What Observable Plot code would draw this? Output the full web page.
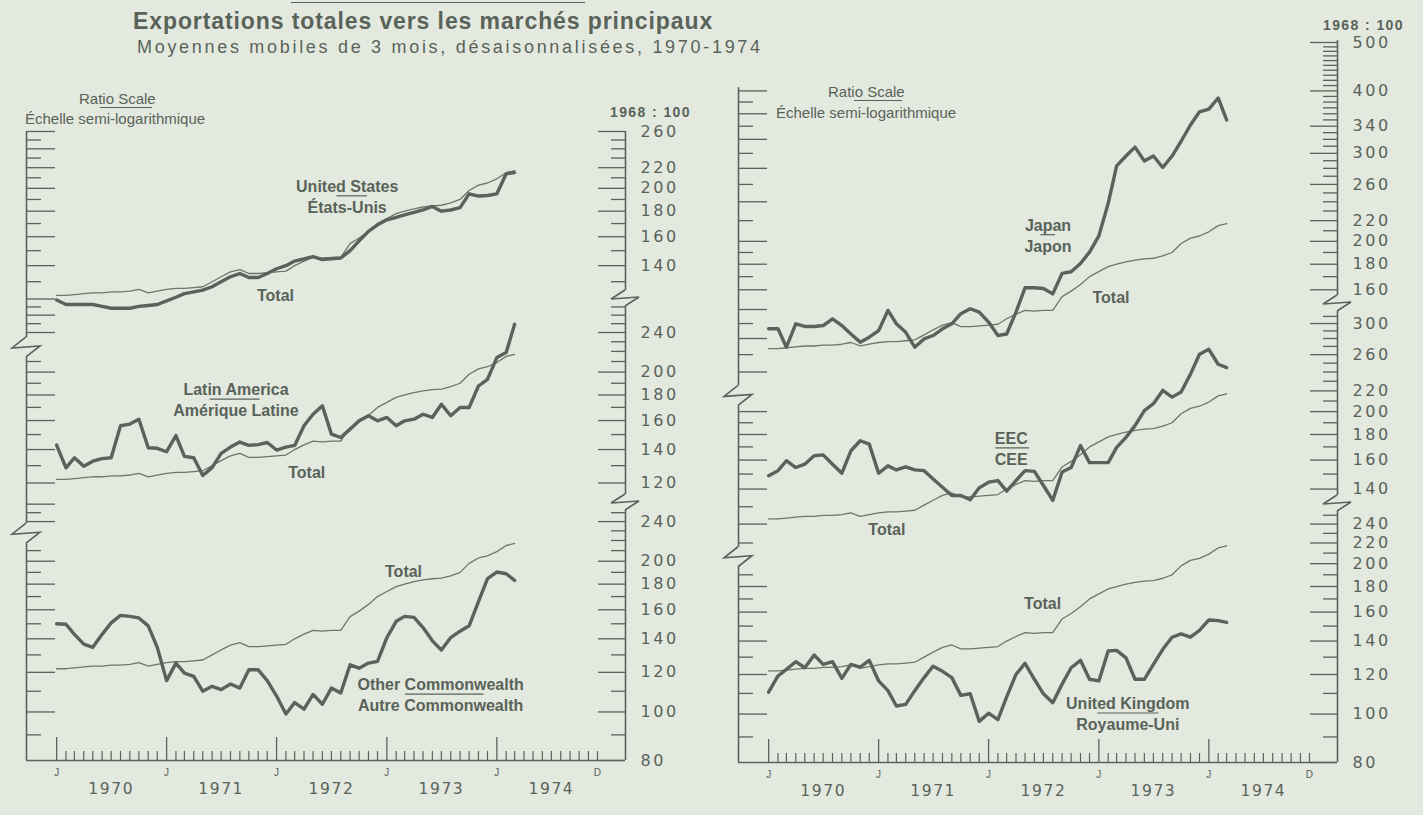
<!DOCTYPE html>
<html>
<head>
<meta charset="utf-8">
<script src="https://cdn.jsdelivr.net/npm/d3@7"></script>
<script src="https://cdn.jsdelivr.net/npm/@observablehq/plot@0.6"></script>
<style>
  body { margin: 0; background: #e3e9de; }
  #chart { position: relative; width: 1423px; height: 815px; overflow: hidden; background: #e3e9de; color: #59635a; font-family: "Liberation Sans", Arial, sans-serif; }
  .t { position: absolute; white-space: nowrap; line-height: 1; }
  .rule { position: absolute; height: 0; border-top: 1.3px solid #59635a; }
  .p { position: absolute; }
  .p svg { overflow: visible; }
  .p g[font-family="DejaVu Sans"][font-size="16"] { letter-spacing: 2.6px; }
  .p g[font-family="DejaVu Sans"][font-size="15.5"] { letter-spacing: 1.6px; }
</style>
</head>
<body>
<div id="chart"></div>
<script>
// ---------------- DATA (monthly, Jan 1970 – Mar 1974, 1968 = 100) ----------------
const firstYear = 1970;
const total = [122,122,122.5,123,123.5,123.5,124,124,124.5,125.5,123.5,124.5,125.5,126,126,126.5,127,130,133,136,137.5,135,135,135.5,136,136.5,140,143,145.5,145,145.5,145.5,155,159,164,170,174,178,180,182,183.5,184.5,185,187,190,198,203,205,209,215,217];
const unitedStates = [119.5,117,117,117,117,116,115,115,115,116,116.5,117,119,121,123,124,125,127,130,133,135,132.5,132.5,135,138,140,143,144.5,146,144,144.5,145,150,157,164,169,173,175,177,179,181,184,180,181,183,195,193,193.5,195,214,215];
const latinAmerica = [142.9,128.7,134.8,129.7,132.7,134.3,134.8,156.2,157.4,161,141.2,140.8,138.6,149.3,135.7,134.8,124.2,128.8,137.6,141.6,144.9,142.7,143.2,144.6,139.7,141.6,142.7,156.2,164.7,171.2,150.3,148,153.8,159.8,163.6,159.8,162.3,156.2,159.8,161,164.7,162.3,172.5,163.6,169.9,169.9,187.6,193.5,213.8,218.8,249.2];
const otherCommonwealth = [150,149.7,142.9,136.6,134.6,142.9,150.6,155.9,155.2,154.1,148.6,134.6,115.5,125.2,119.6,117.8,110,112.5,110.8,113.7,111.6,121.4,121.4,115.5,107.6,99.1,104.4,101.3,108.4,103.6,111.6,109.1,124.2,122.3,125.2,126.2,140.8,151.7,155.2,154.5,147.4,138.7,133,140.8,145,148.6,166.1,184.6,190.3,188.8,183.1];
const japan = [133.7,133.7,122.8,136.8,135.1,135.1,135.7,140,135.7,130.5,125.7,128.6,132.5,145.5,136.8,131.5,122.8,127.6,129.6,133.7,136.8,143.3,146.6,144.4,137.9,129.6,130.5,144.4,161.5,161.5,161,157,172.6,173.9,180.6,190.3,205.1,238.3,283.2,296.3,308.7,289.6,296.3,281,296.3,317.2,341.9,363.3,367.7,387.2,349.9];
const eec = [148.9,152.4,159.5,154.6,157,163.2,163.9,157,150.6,167,174.9,172.2,150.6,155.8,152.9,155.1,152.9,152.4,146.6,141.2,135.9,135.9,133.3,140.8,144.5,145.6,138.7,145.6,152.4,151.9,142.3,132.9,151.5,154.6,171,158.1,158.1,158.1,169.6,177.6,187.5,201,207.4,220.5,213.8,218.8,237.7,260.4,266.4,248.7,244.9];
const unitedKingdom = [110.6,119.2,122.9,127.3,123.8,131.3,125.7,127.3,117.9,125.7,124.2,128.1,116.5,111.4,103.8,104.6,111.4,118.3,124.7,121.8,118.3,109,109.8,96.7,100.4,97.5,108.2,120.1,126.3,117.4,109.8,105.4,114.8,123.8,128.1,117.4,116.5,133.7,134.1,129.6,117.4,117.4,125.7,134.8,142.5,144.7,142.5,147,154.3,153.8,152.6];

// tick labels of each value axis
const labelsLT = [260,220,200,180,160,140];
const labelsLM = [240,200,180,160,140,120];
const labelsLB = [240,200,180,160,140,120,100,80];
const labelsRT = [500,400,340,300,260,220,200,180,160];
const labelsRM = [300,260,220,200,180,160,140];
const labelsRB = [240,220,200,180,160,140,120,100,80];
const yearLabels = [1970,1971,1972,1973,1974];

// series names (month index m, value v)
const namesLT = [{m:31.7, v:193.2, t:"United States\nÉtats-Unis"}, {m:23.9, v:122.5, t:"Total"}];
const namesLM = [{m:19.6, v:176.6, t:"Latin America\nAmérique Latine"}, {m:27.3, v:126.6, t:"Total"}];
const namesLB = [{m:41.9, v:108.6, t:"Other Commonwealth\nAutre Commonwealth"}, {m:37.8, v:191.5, t:"Total"}];
const namesRT = [{m:30.5, v:206.2, t:"Japan\nJapon"}, {m:37.3, v:154.9, t:"Total"}];
const namesRM = [{m:26.5, v:169.3, t:"EEC\nCEE"}, {m:12.9, v:116.6, t:"Total"}];
const namesRB = [{m:39.2, v:100.5, t:"United Kingdom\nRoyaume-Uni"}, {m:29.9, v:167, t:"Total"}];
const sepLT = [{m1:30.6, m2:33.9, v:193.2}];
const sepLM = [{m1:16.8, m2:22.2, v:176.6}];
const sepLB = [{m1:38.1, m2:46.6, v:108.6}];
const sepRT = [{m1:29.7, m2:31.3, v:206.2}];
const sepRM = [{m1:24.8, m2:28.5, v:169.3}];
const sepRB = [{m1:35.9, m2:42.6, v:100.5}];

// ---------------- STYLE / LAYOUT ----------------
const INK = "#59635a", THIN = "#6c7669";
const X0 = new Date(Date.UTC(1969, 8, 23)), X1 = new Date(Date.UTC(1975, 2, 4));
const W = 599, ML = 24, MR = 90, K = 217;
const G = Math.exp(10 / K);
const md = m => { const f = Math.floor(m); return new Date(Date.UTC(firstYear, f, 1) + (m - f) * 30.44 * 864e5); };
const monthDates = total.map((_, i) => new Date(Date.UTC(firstYear, i, 1)));
const rows = arr => arr.map((v, i) => ({d: monthDates[i], v}));
const allMonths = d3.utcMonths(new Date(Date.UTC(1970, 0, 1)), new Date(Date.UTC(1975, 0, 1)));
const januaries = allMonths.filter(d => d.getUTCMonth() === 0);
const minorMonths = allMonths.filter(d => d.getUTCMonth() !== 0);
const decLast = [new Date(Date.UTC(1974, 11, 1))];

const leftTicksL = d3.range(80, 290, 10);
const leftTicksR = [...d3.range(80, 201, 10), ...d3.range(220, 420, 20)];
const longL = v => v % 20 === 0;
const longR = v => v <= 200 ? v % 20 === 0 : v % 40 === 0;

const panels = [
  {x:26,  top:131, h:167, lo:120.3, hi:260,   s:unitedStates,      labels:labelsLT, names:namesLT, seps:sepLT, lt:leftTicksL, long:longL, breakBottom:true},
  {x:26,  top:298, h:204, lo:109.7, hi:280.7, s:latinAmerica,      labels:labelsLM, names:namesLM, seps:sepLM, lt:leftTicksL, long:longL, breakTop:true, breakBottom:true, leftBreak:224},
  {x:26,  top:502, h:258, lo:80,    hi:262,   s:otherCommonwealth, labels:labelsLB, names:namesLB, seps:sepLB, lt:leftTicksL, long:longL, breakTop:true, leftBreak:227, axis:true},
  {x:738, top:40,  h:263, lo:150.2, hi:504.6, s:japan,             labels:labelsRT, names:namesRT, seps:sepRT, lt:leftTicksR, long:longR, breakBottom:true, leftTop:406},
  {x:738, top:303, h:200, lo:131,   hi:329,   s:eec,               labels:labelsRM, names:namesRM, seps:sepRM, lt:leftTicksR, long:longR, breakTop:true, breakBottom:true, leftBreak:215},
  {x:738, top:503, h:259, lo:80,    hi:263.9, s:unitedKingdom,     labels:labelsRB, names:namesRB, seps:sepRB, lt:leftTicksR, long:longR, breakTop:true, leftBreak:206, axis:true}
];

function zigzag(side, where) {
  return (index, scales, values, dims) => {
    const ax = side === "left" ? dims.marginLeft : dims.width - dims.marginRight;
    const y = where === "top" ? dims.marginTop : scales.y(where);
    const s = side === "left" ? 10 : 8;
    return d3.create("svg:path")
      .attr("d", `M${ax},${y - s}L${ax - 14},${y + 1}L${ax + 14},${y - 1}L${ax},${y + s}`)
      .attr("fill", "none").attr("stroke", INK).attr("stroke-width", 1.6)
      .attr("stroke-linejoin", "miter").node();
  };
}

function buildPanel(c) {
  const mb = c.axis ? 50 : 0;
  const lTop = c.leftTop ?? c.hi;
  const nearBreak = v => c.leftBreak && Math.abs(Math.log(v / c.leftBreak)) * K < 12;
  const lVals = c.lt.filter(v => v > c.lo * 1.02 && v <= lTop * 1.001 && !nearBreak(v));
  const segs = c.leftBreak ? [[c.lo, c.leftBreak / G], [c.leftBreak * G, lTop]] : [[c.lo, lTop]];
  const gap = Math.exp(8 / K);
  const rLo = c.breakBottom ? c.lo * gap : c.lo * 0.999;
  const rHi = c.breakTop ? c.hi / gap : c.hi * 1.001;
  const rVals = d3.range(80, 510, 10).filter(v => v >= rLo && v <= rHi);
  const marks = [
    // left ratio ruler
    Plot.ruleX(segs, {x: () => X0, y1: d => d[0], y2: d => d[1], stroke: INK, strokeWidth: 1.6}),
    Plot.tickY(lVals.filter(c.long), {y: d => d, insetRight: W - 29, stroke: INK, strokeWidth: 1.3}),
    Plot.tickY(lVals.filter(v => !c.long(v)), {y: d => d, insetRight: W - 15, stroke: INK, strokeWidth: 1.3}),
    // right value axis
    Plot.ruleX([X1], {y1: c.breakBottom ? c.lo * gap : c.lo, y2: c.breakTop ? c.hi / gap : c.hi, stroke: INK, strokeWidth: 1.6}),
    Plot.tickY(rVals.filter(v => c.labels.includes(v)), {y: d => d, insetLeft: W - 27, stroke: INK, strokeWidth: 1.3}),
    Plot.tickY(rVals.filter(v => !c.labels.includes(v)), {y: d => d, insetLeft: W - 14, stroke: INK, strokeWidth: 1.3}),
    Plot.text(c.labels, {y: d => d, text: d => String(d), frameAnchor: "right", textAnchor: "start", dx: 15,
      fontSize: 16, fontFamily: "DejaVu Sans", fill: INK}),
    // series
    Plot.line(rows(total), {x: "d", y: "v", stroke: THIN, strokeWidth: 1.3, strokeLinejoin: "round"}),
    Plot.line(rows(c.s), {x: "d", y: "v", stroke: INK, strokeWidth: 3.4, strokeLinejoin: "round", strokeLinecap: "round"}),
    Plot.text(c.names, {x: d => md(d.m), y: "v", text: "t", fontSize: 16, fontWeight: "bold",
      fontFamily: "Liberation Sans", lineHeight: 1.3, fill: INK}),
    Plot.ruleY(c.seps, {y: "v", x1: d => md(d.m1), x2: d => md(d.m2), stroke: INK, strokeWidth: 1.2})
  ];
  if (c.breakTop) marks.push(zigzag("right", "top"));
  if (c.leftBreak) marks.push(zigzag("left", c.leftBreak));
  if (c.axis) {
    marks.push(
      Plot.ruleY([c.lo], {stroke: INK, strokeWidth: 1.6}),
      Plot.tickX(minorMonths, {x: d => d, insetTop: c.h - 9, stroke: INK, strokeWidth: 1.2}),
      Plot.tickX(januaries, {x: d => d, insetTop: c.h - 23, stroke: INK, strokeWidth: 1.3}),
      Plot.text(januaries, {x: d => d, text: () => "J", frameAnchor: "bottom", dy: 15, fontSize: 10, fontFamily: "Liberation Sans", fill: INK}),
      Plot.text(decLast, {x: d => d, text: () => "D", frameAnchor: "bottom", dy: 15, fontSize: 10, fontFamily: "Liberation Sans", fill: INK}),
      Plot.text(yearLabels, {x: y => new Date(Date.UTC(y, 6, 1)), text: y => String(y), frameAnchor: "bottom", dy: 33,
        fontSize: 15.5, fontFamily: "DejaVu Sans", fill: INK})
    );
  }
  const svg = Plot.plot({
    width: W + ML + MR, height: c.h + mb,
    marginLeft: ML, marginRight: MR, marginTop: 0, marginBottom: mb,
    x: {type: "utc", domain: [X0, X1], axis: null},
    y: {type: "log", domain: [c.lo, c.hi], axis: null},
    style: {overflow: "visible", background: "transparent", color: INK},
    marks
  });
  const div = document.createElement("div");
  div.className = "p";
  div.style.left = (c.x - ML) + "px";
  div.style.top = c.top + "px";
  div.style.width = (W + ML + MR) + "px";
  div.appendChild(svg);
  document.getElementById("chart").appendChild(div);
}

// ---------------- TEXT ----------------
const chart = document.getElementById("chart");
function addText(txt, x, y, css) {
  const d = document.createElement("div");
  d.className = "t"; d.textContent = txt;
  d.style.left = x + "px"; d.style.top = y + "px";
  Object.assign(d.style, css);
  chart.appendChild(d);
}
function addRule(x, y, w) {
  const d = document.createElement("div");
  d.className = "rule"; d.style.left = x + "px"; d.style.top = y + "px"; d.style.width = w + "px";
  chart.appendChild(d);
}
addRule(291, 2, 294);
addText("Exportations totales vers les marchés principaux", 133, 10, {fontSize: "23px", fontWeight: "bold", letterSpacing: "0.9px"});
addText("Moyennes mobiles de 3 mois, désaisonnalisées, 1970-1974", 137, 38, {fontSize: "18px", letterSpacing: "2.7px"});
addText("Ratio Scale", 79, 91, {fontSize: "15px"});
addRule(100, 107, 52);
addText("Échelle semi-logarithmique", 25, 111, {fontSize: "15px"});
addText("Ratio Scale", 828, 84, {fontSize: "15px"});
addRule(854, 100, 48);
addText("Échelle semi-logarithmique", 776, 105, {fontSize: "15px"});
addText("1968 : 100", 610, 105, {fontSize: "14px", fontWeight: "bold", letterSpacing: "1.4px"});
addText("1968 : 100", 1323, 18, {fontSize: "14px", fontWeight: "bold", letterSpacing: "1.4px"});

panels.forEach(buildPanel);
</script>
</body>
</html>
